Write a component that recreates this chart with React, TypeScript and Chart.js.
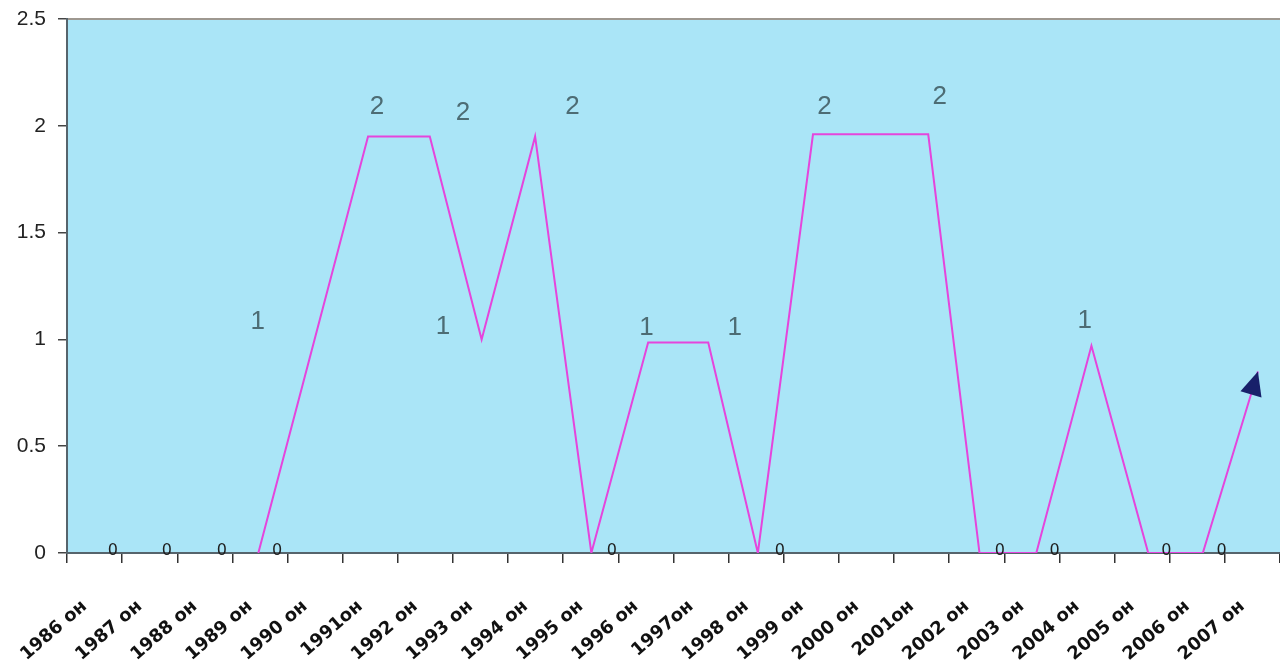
import { useEffect, useRef } from 'react';
import { Chart, registerables } from 'chart.js';
Chart.register(...registerables);

// Category labels (x axis)
const categories = [
  '1986 он', '1987 он', '1988 он', '1989 он', '1990 он', '1991он', '1992 он', '1993 он',
  '1994 он', '1995 он', '1996 он', '1997он', '1998 он', '1999 он', '2000 он', '2001он',
  '2002 он', '2003 он', '2004 он', '2005 он', '2006 он', '2007 он',
];

// Y tick values
const yTicks = [0, 0.5, 1, 1.5, 2, 2.5];

// Drawn line vertices (x in category units, y in value units)
const lineX = [3.47, 5.46, 6.58, 7.52, 8.49, 9.51, 10.54, 11.63, 12.53, 13.53, 15.62, 16.55, 17.58, 18.58, 19.61, 20.6, 21.6];
const lineY = [0, 1.95, 1.95, 1.0, 1.95, 0, 0.985, 0.985, 0, 1.96, 1.96, 0, 0, 0.97, 0, 0, 0.85];

// Data labels: value shown and where it sits (category units, value units)
const labelValues = [0, 0, 0, 0, 1, 2, 2, 1, 2, 0, 1, 1, 0, 2, 2, 0, 0, 1, 0, 0];
const labelX = [0.83, 1.81, 2.81, 3.81, 3.46, 5.62, 7.18, 6.82, 9.17, 9.88, 10.51, 12.11, 12.93, 13.74, 15.83, 16.92, 17.91, 18.46, 19.94, 20.94];
const labelY = [0.01, 0.01, 0.01, 0.01, 1.08, 2.09, 2.06, 1.06, 2.09, 0.01, 1.055, 1.055, 0.01, 2.09, 2.135, 0.01, 0.01, 1.085, 0.01, 0.01];

export default function App() {
  const ref = useRef<HTMLCanvasElement>(null);

  useEffect(() => {
    document.body.style.margin = '0';
    const canvas = ref.current!;

    const bgPlugin = {
      id: 'bg',
      beforeDraw(chart: any) {
        const { ctx, chartArea: a } = chart;
        ctx.save();
        ctx.fillStyle = '#aae5f7';
        ctx.fillRect(a.left, a.top, a.right - a.left, a.bottom - a.top);
        ctx.strokeStyle = '#9e9890';
        ctx.lineWidth = 2;
        ctx.beginPath();
        ctx.moveTo(a.left, a.top);
        ctx.lineTo(a.right, a.top);
        ctx.stroke();
        ctx.restore();
      },
    };

    const xLabelPlugin = {
      id: 'xLabels',
      afterDraw(chart: any) {
        const { ctx } = chart;
        const xs = chart.scales.x;
        ctx.save();
        ctx.font = 'bold 18px "DejaVu Sans"';
        ctx.fillStyle = '#111';
        ctx.textAlign = 'right';
        ctx.textBaseline = 'middle';
        categories.forEach((c, i) => {
          const px = xs.getPixelForValue(i);
          ctx.save();
          ctx.translate(px - 10, xs.top + 51);
          ctx.rotate((-41 * Math.PI) / 180);
          ctx.fillText(c, 0, 0);
          ctx.restore();
        });
        ctx.restore();
      },
    };

    const labelPlugin = {
      id: 'dataLabels',
      afterDatasetsDraw(chart: any) {
        const { ctx } = chart;
        const meta = chart.getDatasetMeta(1);
        ctx.save();
        ctx.textAlign = 'center';
        ctx.textBaseline = 'middle';
        meta.data.forEach((el: any, i: number) => {
          const v = labelValues[i];
          if (v === 0) {
            ctx.font = '16px "DejaVu Sans"';
            ctx.fillStyle = '#1e1e1e';
          } else {
            ctx.font = '26px "Liberation Sans"';
            ctx.fillStyle = '#4d6c74';
          }
          ctx.fillText(String(v), el.x, el.y);
        });
        ctx.restore();
      },
    };

    const arrowPlugin = {
      id: 'arrow',
      afterDatasetsDraw(chart: any) {
        const { ctx } = chart;
        const pts = chart.getDatasetMeta(0).data;
        const n = pts.length;
        const p1 = pts[n - 2];
        const p2 = pts[n - 1];
        const ang = Math.atan2(p2.y - p1.y, p2.x - p1.x);
        const len = 24;
        const hw = 11;
        const bx = p2.x - Math.cos(ang) * len;
        const by = p2.y - Math.sin(ang) * len;
        ctx.save();
        ctx.fillStyle = '#18206a';
        ctx.beginPath();
        ctx.moveTo(p2.x, p2.y);
        ctx.lineTo(bx + Math.sin(ang) * hw, by - Math.cos(ang) * hw);
        ctx.lineTo(bx - Math.sin(ang) * hw, by + Math.cos(ang) * hw);
        ctx.closePath();
        ctx.fill();
        ctx.restore();
      },
    };

    const chart = new Chart(canvas, {
      type: 'line',
      data: {
        labels: categories,
        datasets: [
          {
            data: lineX.map((x, i) => ({ x, y: lineY[i] })),
            xAxisID: 'xl',
            yAxisID: 'y',
            borderColor: '#e545dc',
            borderWidth: 2,
            pointRadius: 0,
            tension: 0,
            fill: false,
          },
          {
            data: labelX.map((x, i) => ({ x, y: labelY[i] })),
            xAxisID: 'xl',
            yAxisID: 'y',
            showLine: false,
            pointRadius: 0,
          },
        ],
      },
      options: {
        animation: false,
        responsive: false,
        layout: { padding: { top: 19, right: 0, left: 0, bottom: 0 } },
        plugins: { legend: { display: false }, tooltip: { enabled: false } },
        scales: {
          x: {
            type: 'category',
            labels: categories,
            offset: true,
            position: 'bottom',
            grid: { offset: true, drawOnChartArea: false, tickLength: 10, color: '#333', lineWidth: 1.5 },
            border: { color: '#56646c', width: 2 },
            ticks: { display: false, autoSkip: false },
            afterFit(s: any) { s.height = 114; s.paddingLeft = 0; s.paddingRight = 0; },
          },
          xl: { type: 'linear', min: 0, max: 22, display: false },
          y: {
            min: 0,
            max: 2.5,
            afterBuildTicks(s: any) { s.ticks = yTicks.map((v) => ({ value: v })); },
            ticks: {
              font: { family: 'Liberation Sans', size: 21 },
              color: '#222',
              padding: 12,
              callback: (v: any) => String(v),
            },
            grid: { drawOnChartArea: false, tickLength: 9, color: '#444', lineWidth: 1.5 },
            border: { color: '#56646c', width: 2 },
            afterFit(s: any) { s.width = 67; s.paddingTop = 0; s.paddingBottom = 0; },
          },
        },
      },
      plugins: [bgPlugin, xLabelPlugin, labelPlugin, arrowPlugin],
    });
    return () => chart.destroy();
  }, []);

  return <canvas ref={ref} width={1280} height={667} style={{ display: 'block' }} />;
}
